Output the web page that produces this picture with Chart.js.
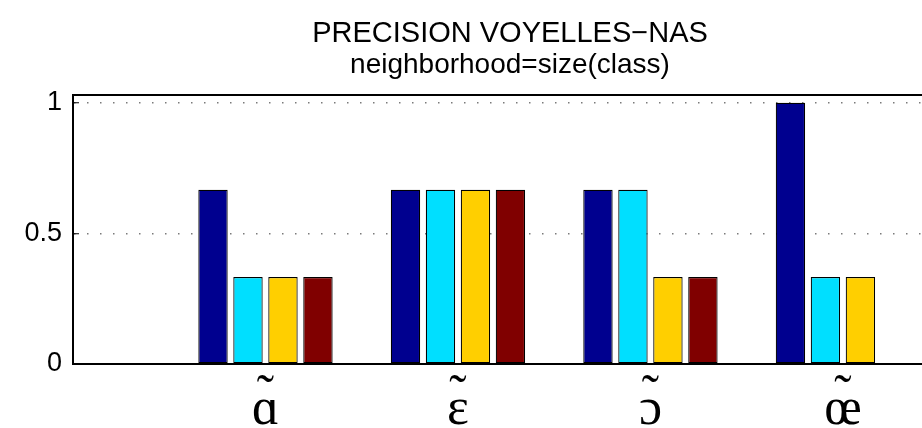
<!DOCTYPE html>
<html>
<head>
<meta charset="utf-8">
<script src="https://cdn.jsdelivr.net/npm/chart.js@4/dist/chart.umd.min.js"></script>
<style>
    html, body { margin: 0; padding: 0; background: #ffffff; overflow: hidden; }
    #wrap { width: 922px; height: 428px; overflow: hidden; }
    canvas { display: block; }
</style>
</head>
<body>
<div id="wrap">
    <canvas id="precision-chart" width="1020" height="428"></canvas>
</div>
<script>
// Precision per nasal vowel, 4 series (jet colours)
const categories = ['ɑ', 'ɛ', 'ɔ', 'œ'];
const positions = [1, 2, 3, 4];
const series1 = [0.667, 0.667, 0.667, 1];
const series2 = [0.333, 0.667, 0.667, 0.333];
const series3 = [0.333, 0.667, 0.333, 0.333];
const series4 = [0.333, 0.667, 0.333, 0];
const seriesNames = ['série 1', 'série 2', 'série 3', 'série 4'];
const seriesColors = ['#00008f', '#00dfff', '#ffcf00', '#800000'];
const yTicks = [0, 0.5, 1];

const titleText = 'PRECISION VOYELLES\u2212NAS';
const subtitleText = 'neighborhood=size(class)';

const allSeries = [series1, series2, series3, series4];

Chart.defaults.color = '#000000';
Chart.defaults.font.family = '"Liberation Sans", Arial, Helvetica, sans-serif';

const ctx = document.getElementById('precision-chart');
new Chart(ctx, {
    type: 'bar',
    data: {
        labels: positions,
        datasets: allSeries.map((values, i) => ({
            label: seriesNames[i],
            data: values,
            backgroundColor: seriesColors[i],
            borderColor: '#000000',
            borderWidth: 1.2,
            borderSkipped: false,
            categoryPercentage: 0.727,
            barPercentage: 0.84
        }))
    },
    options: {
        responsive: false,
        animation: false,
        layout: {
            padding: 0
        },
        plugins: {
            legend: { display: false },
            tooltip: { enabled: false },
            title: {
                display: true,
                text: titleText,
                font: { size: 29, weight: 'normal', lineHeight: 1 },
                padding: { top: 19, bottom: 3 }
            },
            subtitle: {
                display: true,
                text: subtitleText,
                color: '#000000',
                font: { size: 28, weight: 'normal', lineHeight: 1 },
                padding: { top: 0, bottom: 16 }
            }
        },
        scales: {
            x: {
                type: 'linear',
                position: 'bottom',
                min: 0,
                max: 4.92,
                offset: false,
                afterBuildTicks: scale => {
                    scale.ticks = positions.map(v => ({ value: v }));
                },
                afterFit: scale => { scale.height = 64; },
                grid: { display: false, drawTicks: false },
                border: { display: true, color: '#000000', width: 2 },
                ticks: {
                    autoSkip: false,
                    maxRotation: 0,
                    padding: 27,
                    font: { family: '"Liberation Serif", "DejaVu Serif", serif', size: 52, lineHeight: 0.25 },
                    callback: value => {
                        const idx = positions.indexOf(value);
                        return idx < 0 ? '' : ['\u02dc', categories[idx]];
                    }
                }
            },
            xTop: {
                type: 'linear',
                axis: 'x',
                position: 'top',
                min: 0,
                max: 4.92,
                offset: false,
                afterFit: scale => { scale.height = 0; },
                grid: { display: false, drawTicks: false },
                border: { display: true, color: '#000000', width: 2 },
                ticks: { display: false }
            },
            y: {
                min: 0,
                max: 1.03,
                afterBuildTicks: scale => {
                    scale.ticks = yTicks.map(v => ({ value: v }));
                },
                afterFit: scale => { scale.width = 73; },
                grid: {
                    color: c => (c.tick && c.tick.value === 0) ? 'rgba(0,0,0,0)' : '#7a7a7a',
                    lineWidth: 1.5,
                    drawTicks: true,
                    tickLength: -6,
                    tickColor: '#000000',
                    tickWidth: 1
                },
                border: { display: true, color: '#000000', width: 2, dash: [1.5, 11.5] },
                ticks: {
                    padding: 17,
                    font: { size: 27 },
                    callback: value => String(value)
                }
            }
        }
    }
});
</script>
</body>
</html>
